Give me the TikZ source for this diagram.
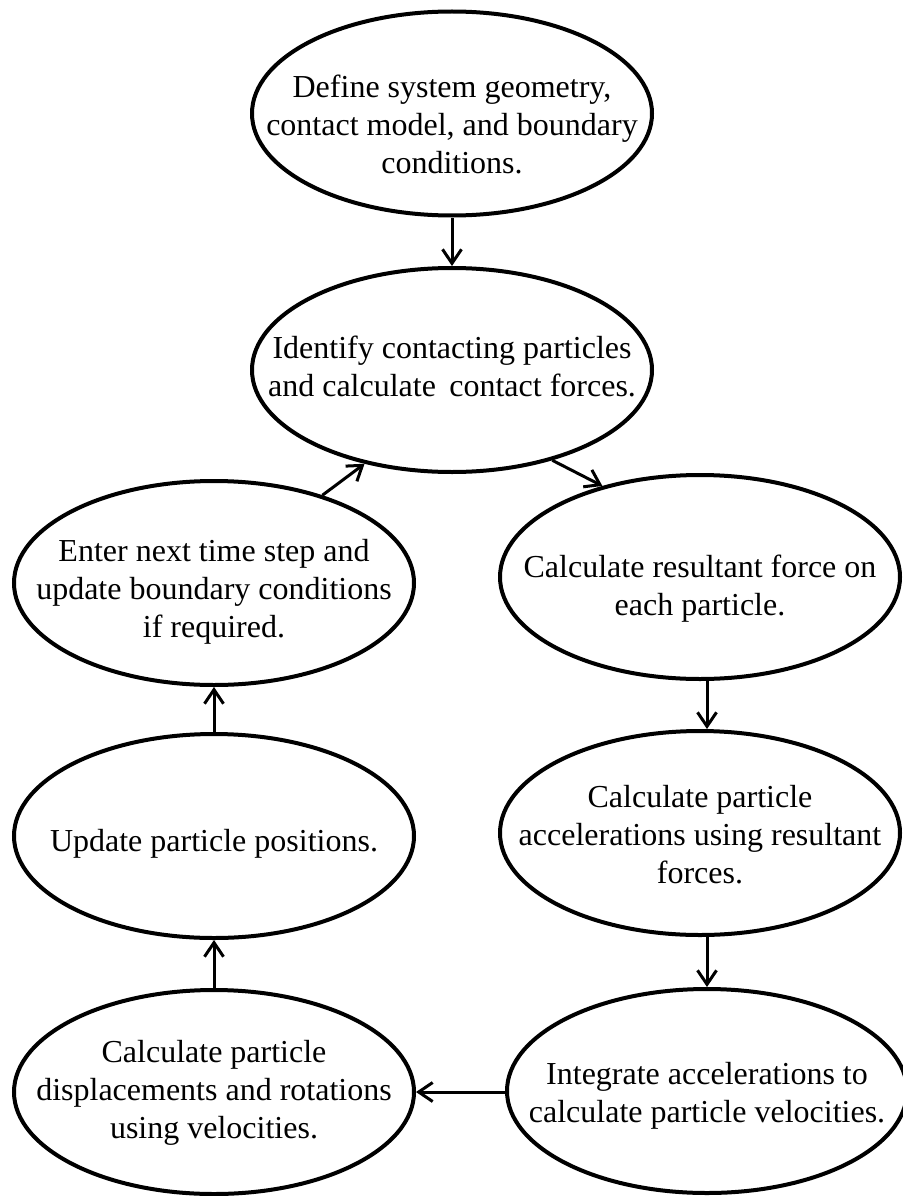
\documentclass[tikz,border=0pt]{standalone}
\usepackage{fontspec}
\setmainfont{Liberation Serif}
\usetikzlibrary{shapes.geometric,arrows.meta}
\tikzset{
  ell/.style={draw, ellipse, line width=4pt, minimum width=400pt, minimum height=204pt, inner sep=0pt},
  lab/.style={font=\fontsize{32}{38}\selectfont, inner sep=0pt},
  arr/.style={line width=3pt, -{Straight Barb[length=14pt,width=19pt]}}
}
\newcommand\txtlines[1]{\begin{tabular}{@{}c@{}}#1\end{tabular}}
\begin{document}
\begin{tikzpicture}[x=1pt,y=-1pt]
\useasboundingbox (0,0) rectangle (902,1196);
% ellipses
\node[ell] (e1) at (452,113.5) {};
\node[ell] (e2) at (452,370) {};
\node[ell] (e3) at (214,583) {};
\node[ell] (e4) at (700,577) {};
\node[ell] (e5) at (214,836) {};
\node[ell] (e6) at (700,833) {};
\node[ell] (e7) at (214,1092) {};
\node[ell] (e8) at (707,1091) {};
% texts
\node[lab] (t1) at ([yshift=-14pt]e1.center) {\txtlines{Define system geometry,\\contact model, and boundary\\conditions.}};
\node[lab] (t2) at ([yshift=0pt]e2.center) {\txtlines{Identify contacting particles\\and calculate\, contact forces.}};
\node[lab] (t3) at ([yshift=-9pt]e3.center) {\txtlines{Enter next time step and\\update boundary conditions\\if required.}};
\node[lab] (t4) at ([yshift=-12pt]e4.center) {\txtlines{Calculate resultant force on\\each particle.}};
\node[lab] (t5) at ([yshift=-8pt]e5.center) {\txtlines{Update particle positions.}};
\node[lab] (t6) at ([yshift=-5pt]e6.center) {\txtlines{Calculate particle\\accelerations using resultant\\forces.}};
\node[lab] (t7) at ([yshift=-1pt]e7.center) {\txtlines{Calculate particle\\displacements and rotations\\using velocities.}};
\node[lab] (t8) at ([yshift=-5pt]e8.center) {\txtlines{Integrate accelerations to\\calculate particle velocities.}};
% connectors
\draw[arr] (e1.south) -- (e2.north);
\draw[arr] (e2.318) -- (e4.137);
\draw[arr] ([xshift=7pt]e4.south) -- ([xshift=7pt]e6.north);
\draw[arr] ([xshift=7pt]e6.south) -- (e8.north);
\draw[arr] (e7.east -| e8.west) -- (e7.east);
\draw[arr] (e7.north) -- (e5.south);
\draw[arr] (e5.north) -- (e3.south);
\draw[arr] (e3.39) -- (e2.227);
\end{tikzpicture}
\end{document}
